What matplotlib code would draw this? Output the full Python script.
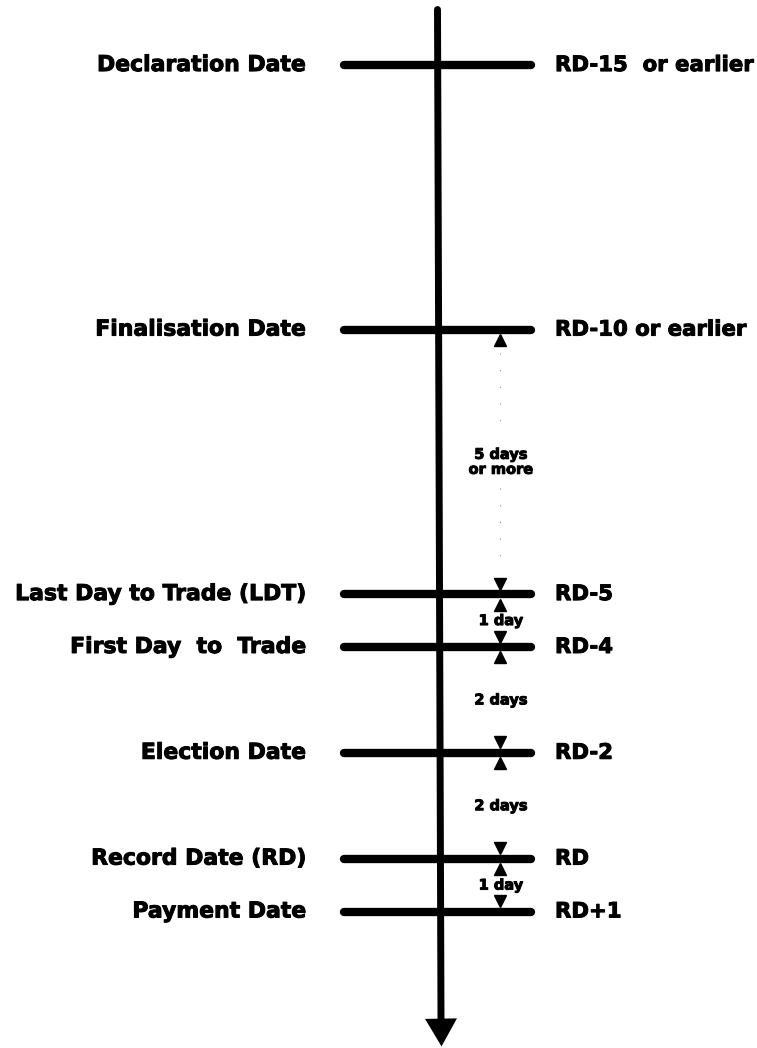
import matplotlib.pyplot as plt
import matplotlib.patheffects as pe
from matplotlib.transforms import ScaledTranslation

# timeline of a dividend / distribution event, in days relative to Record Date
events = ["Declaration Date", "Finalisation Date", "Last Day to Trade (LDT)",
          "First Day  to  Trade", "Election Date", "Record Date (RD)", "Payment Date"]
rd_labels = ["RD-15  or earlier", "RD-10 or earlier", "RD-5", "RD-4", "RD-2", "RD", "RD+1"]
rd_offset = [-15, -10, -5, -4, -2, 0, 1]
# label for the gap between event i and event i+1
gap_labels = [None, "5 days\nor more", "1 day", "2 days", "2 days", "1 day"]

fig = plt.figure(figsize=(7.57, 10.48), dpi=100)
ax = fig.add_axes([0, 0, 1, 1])
ax.set_xlim(0, 757)
ax.set_ylim(3.58, -16.23)
ax.axis("off")

# scanned original has heavy type, thicken a bit
heavy = [pe.withStroke(linewidth=0.7, foreground="black")]
font = dict(family="DejaVu Sans", fontweight="bold", path_effects=heavy)

# main vertical time axis
ax.plot([437.5, 441], [-16.05, 3.05], color="black", lw=5, solid_capstyle="round")
ax.annotate("", xy=(441.5, 3.55), xytext=(441, 3.0),
            arrowprops=dict(arrowstyle="-|>,head_length=20,head_width=11.5",
                            mutation_scale=1, lw=0, color="black",
                            shrinkA=0, shrinkB=0))

for name, rd, day in zip(events, rd_labels, rd_offset):
    ax.plot([344, 531], [day, day], color="black", lw=6, solid_capstyle="round")
    ax.text(307, day, name, ha="right", va="center", fontsize=15.8, **font)
    ax.text(555, day, rd, ha="left", va="center", fontsize=15.3, **font)

mx = 500
below = ax.transData + ScaledTranslation(0, -7.5 / 72, fig.dpi_scale_trans)
above = ax.transData + ScaledTranslation(0, 7.5 / 72, fig.dpi_scale_trans)
for i, lab in enumerate(gap_labels):
    if lab is None:
        continue
    d0, d1 = rd_offset[i], rd_offset[i + 1]
    ax.plot([mx], [d0], marker="^", ms=9, color="black", transform=below)
    ax.plot([mx], [d1], marker="v", ms=9, color="black", transform=above)
    ax.text(mx + 1, (d0 + d1) / 2, lab, ha="center", va="center",
            fontsize=10.5, linespacing=1.0, **font)
    if i == 1:
        # faint dotted guide on the long gap
        ax.plot([mx, mx], [d0 + 0.45, (d0 + d1) / 2 - 0.5], color="0.55",
                lw=0.8, ls=(0, (1, 14)))
        ax.plot([mx, mx], [(d0 + d1) / 2 + 0.5, d1 - 0.45], color="0.55",
                lw=0.8, ls=(0, (1, 14)))

fig.savefig("out.png", dpi=100)
